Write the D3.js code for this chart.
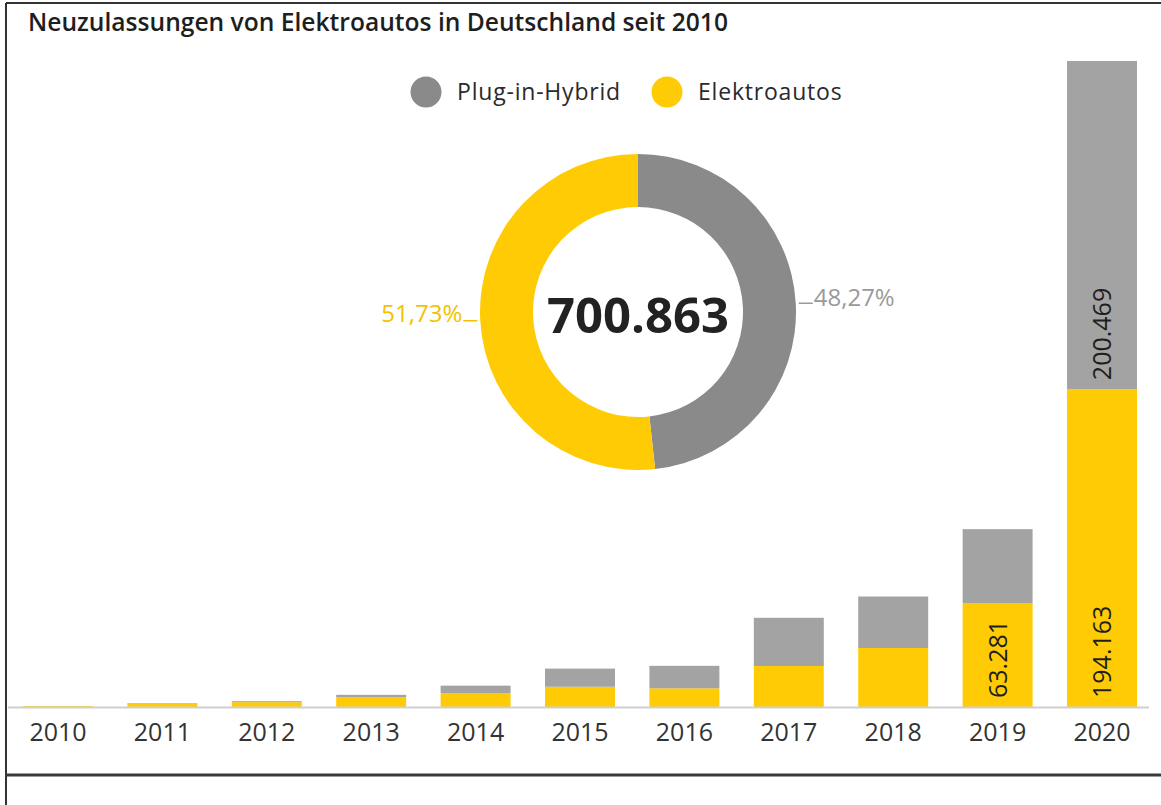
<!DOCTYPE html>
<html lang="de">
<head>
<meta charset="utf-8">
<title>Neuzulassungen von Elektroautos in Deutschland seit 2010</title>
<script src="https://cdn.jsdelivr.net/npm/d3@7/dist/d3.min.js"></script>
<style>
  html, body { margin: 0; padding: 0; background: #fff; }
  svg { display: block; font-family: "Open Sans", "Noto Sans", sans-serif; }
</style>
</head>
<body>
<svg id="chart" width="1161" height="805"></svg>
<script>
// Neuzulassungen je Jahr (Stück)
const years = ["2010", "2011", "2012", "2013", "2014", "2015", "2016", "2017", "2018", "2019", "2020"];
const elektroautos = [541, 2154, 2956, 6051, 8522, 12363, 11410, 25056, 36062, 63281, 194163];
const plugInHybrid = [0, 266, 586, 1385, 4527, 11101, 13744, 29436, 31442, 45348, 200469];
const seriesNames = ["Plug-in-Hybrid", "Elektroautos"];
const seriesColors = { "Plug-in-Hybrid": "#8a8a8a", "Elektroautos": "#ffcb05" };
const barColors = { "Plug-in-Hybrid": "#a3a3a3", "Elektroautos": "#ffcb05" };
const labelledYears = ["2019", "2020"];

const W = 1161, H = 805;
const svg = d3.select("#chart");

const locale = d3.formatLocale({ decimal: ",", thousands: ".", grouping: [3], currency: ["", " €"] });
const fmtInt = locale.format(",d");
const fmtPct = locale.format(".2%");

// Rahmen
svg.append("line").attr("x1", 6).attr("x2", W).attr("y1", 3).attr("y2", 3)
  .attr("stroke", "#333").attr("stroke-width", 2);
svg.append("line").attr("x1", 6).attr("x2", 6).attr("y1", 3).attr("y2", H)
  .attr("stroke", "#333").attr("stroke-width", 2);
svg.append("line").attr("x1", 6).attr("x2", W).attr("y1", 775).attr("y2", 775)
  .attr("stroke", "#3a3a3a").attr("stroke-width", 3);

// Titel
svg.append("text").attr("x", 28).attr("y", 31)
  .attr("font-size", 24.6).attr("font-weight", 600).attr("fill", "#1e1e1e")
  .text("Neuzulassungen von Elektroautos in Deutschland seit 2010");

// Gestapelte Balken
const rows = years.map((y, i) => ({ year: y, "Elektroautos": elektroautos[i], "Plug-in-Hybrid": plugInHybrid[i] }));
const stack = d3.stack().keys(["Elektroautos", "Plug-in-Hybrid"]);
const stacked = stack(rows);

const x = d3.scaleBand().domain(years).range([23, 1137]).paddingInner(0.33).paddingOuter(0);
const maxTotal = d3.max(rows, d => d["Elektroautos"] + d["Plug-in-Hybrid"]);
const y = d3.scaleLinear().domain([0, maxTotal]).range([707, 61]);

const layers = svg.append("g").selectAll("g").data(stacked).join("g")
  .attr("fill", d => barColors[d.key]);
layers.selectAll("rect").data(d => d).join("rect")
  .attr("x", d => x(d.data.year))
  .attr("width", x.bandwidth())
  .attr("y", d => y(d[1]))
  .attr("height", d => y(d[0]) - y(d[1]));

// Grundlinie und Jahresachse
svg.append("line").attr("x1", 8).attr("x2", 1149).attr("y1", y(0) + 0.5).attr("y2", y(0) + 0.5)
  .attr("stroke", "#cfcfcf").attr("stroke-width", 2);
const xAxis = svg.append("g").attr("transform", `translate(0,${y(0)})`)
  .call(d3.axisBottom(x).tickSize(0).tickPadding(16));
xAxis.select(".domain").remove();
xAxis.selectAll("text").attr("font-size", 25).attr("fill", "#333")
  .attr("font-family", "'Open Sans', sans-serif");

// Werte in den Balken (2019, 2020)
const valueLabels = [];
stacked.forEach(layer => layer.forEach(d => {
  if (!labelledYears.includes(d.data.year)) return;
  if (layer.key === "Plug-in-Hybrid" && d.data.year !== "2020") return;
  valueLabels.push({ year: d.data.year, bottom: d[0], value: d.data[layer.key] });
}));
svg.append("g").selectAll("text").data(valueLabels).join("text")
  .attr("transform", d => `translate(${x(d.year) + x.bandwidth() / 2 + 9},${y(d.bottom) - 9}) rotate(-90)`)
  .attr("font-size", 25).attr("fill", "#1e1e1e")
  .text(d => fmtInt(d.value));

// Legende
const legend = svg.append("g").selectAll("g").data(seriesNames).join("g")
  .attr("transform", (d, i) => `translate(${[426, 667][i]},92)`);
legend.append("circle").attr("r", 15.5).attr("fill", d => seriesColors[d]);
legend.append("text").attr("x", 31).attr("y", 8).attr("font-size", 23)
  .attr("fill", "#2a2a2a").attr("letter-spacing", 0.8).text(d => d);

// Ring: Summe 2010–2020
const totals = [
  { key: "Plug-in-Hybrid", value: d3.sum(plugInHybrid) },
  { key: "Elektroautos", value: d3.sum(elektroautos) }
];
const grand = d3.sum(totals, d => d.value);
const cx = 638, cy = 312, rOuter = 158, rInner = 105;
const pie = d3.pie().sort(null).value(d => d.value);
const arcs = pie(totals);
const arc = d3.arc().innerRadius(rInner).outerRadius(rOuter);
const donut = svg.append("g").attr("transform", `translate(${cx},${cy})`);
donut.selectAll("path").data(arcs).join("path")
  .attr("d", arc).attr("fill", d => seriesColors[d.data.key]);

donut.append("text").attr("text-anchor", "middle").attr("y", 21)
  .attr("font-size", 49).attr("font-weight", 700).attr("fill", "#222")
  .text(fmtInt(grand));

const pctColors = { "Plug-in-Hybrid": "#9a9a9a", "Elektroautos": "#f2c200" };
arcs.forEach(a => {
  const mid = (a.startAngle + a.endAngle) / 2;
  const side = Math.sin(mid) > 0 ? 1 : -1;
  const px = Math.sin(mid) * (rOuter + 3), py = -Math.cos(mid) * (rOuter + 3);
  const ex = px + side * 14;
  donut.append("line").attr("x1", px).attr("y1", py).attr("x2", ex).attr("y2", py)
    .attr("stroke", pctColors[a.data.key]).attr("stroke-width", 1.5);
  donut.append("text").attr("x", ex + side * 1).attr("y", py + (side > 0 ? 3 : 1))
    .attr("text-anchor", side > 0 ? "start" : "end")
    .attr("font-size", 24).attr("fill", pctColors[a.data.key])
    .text(fmtPct(a.data.value / grand));
});
</script>
</body>
</html>
